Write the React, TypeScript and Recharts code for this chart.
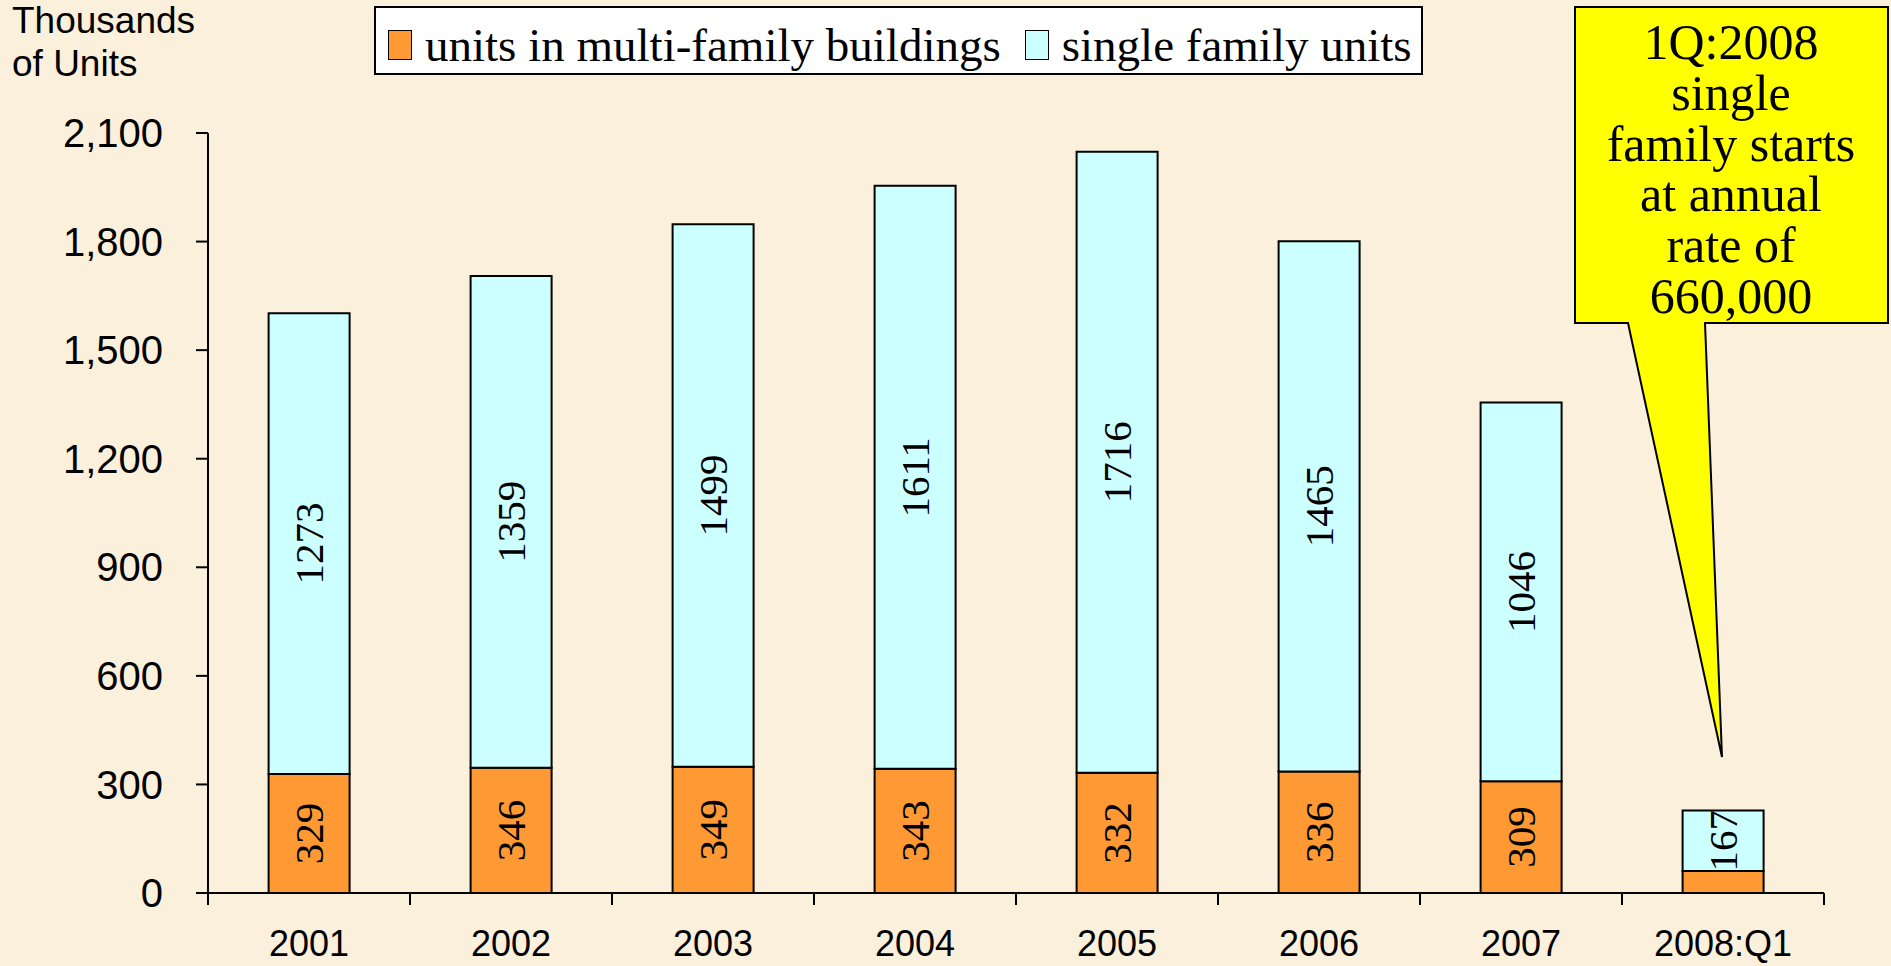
import React from 'react';
import { BarChart, Bar, XAxis, YAxis, LabelList } from 'recharts';

// Housing starts, thousands of units
const years = ['2001', '2002', '2003', '2004', '2005', '2006', '2007', '2008:Q1'];
const multiFamily = [329, 346, 349, 343, 332, 336, 309, 61];
const singleFamily = [1273, 1359, 1499, 1611, 1716, 1465, 1046, 167];
const yTicks = [0, 300, 600, 900, 1200, 1500, 1800, 2100];
const calloutLines = ['1Q:2008', 'single', 'family starts', 'at annual', 'rate of', '660,000'];

const SANS = '"Liberation Sans", Arial, sans-serif';
const SERIF = '"Liberation Serif", "Times New Roman", serif';
const ORANGE = '#FF9933';
const CYAN = '#CCFFFF';

const data = years.map((year, i) => ({
  year,
  multi: multiFamily[i],
  single: singleFamily[i],
}));

// x tick: label under the category, tick marks on the category borders
function XTick(props: any) {
  const { x, y, payload, index } = props;
  const off = payload.offset ?? 0;
  return (
    <g>
      <line x1={x - off} x2={x - off} y1={y} y2={y + 12} stroke="#000" strokeWidth={2} />
      {index === years.length - 1 && (
        <line x1={x + off} x2={x + off} y1={y} y2={y + 12} stroke="#000" strokeWidth={2} />
      )}
      <text x={x} y={y + 37} dy="0.71em" textAnchor="middle" fontFamily={SANS} fontSize={36} fill="#000">
        {payload.value}
      </text>
    </g>
  );
}

// vertical value label in the middle of a segment
function makeLabel(hideSmall: boolean) {
  return (props: any) => {
    const { x, y, width, height, value } = props;
    if (hideSmall && Math.abs(height) < 40) return null;
    const cx = x + width / 2;
    const cy = y + height / 2;
    return (
      <text
        x={cx}
        y={cy}
        transform={`rotate(-90, ${cx}, ${cy})`}
        textAnchor="middle"
        dominantBaseline="central"
        fontFamily={SERIF}
        fontSize={41}
        fill="#000"
      >
        {value}
      </text>
    );
  };
}

function LegendBox() {
  const key = (color: string) => (
    <span
      style={{
        display: 'inline-block',
        width: 24,
        height: 30,
        background: color,
        border: '1.5px solid #000',
        marginRight: 13,
        verticalAlign: 'middle',
        boxSizing: 'border-box',
      }}
    />
  );
  return (
    <div
      style={{
        position: 'absolute',
        top: 6,
        left: 374,
        width: 1049,
        height: 69,
        boxSizing: 'border-box',
        border: '2px solid #000',
        background: '#fff',
        fontFamily: SERIF,
        fontSize: 47,
        lineHeight: '64px',
        whiteSpace: 'nowrap',
        paddingLeft: 12,
        color: '#000',
        overflow: 'hidden',
      }}
    >
      {key(ORANGE)}
      <span style={{ verticalAlign: 'middle', marginRight: 24 }}>units in multi-family buildings</span>
      {key(CYAN)}
      <span style={{ verticalAlign: 'middle' }}>single family units</span>
    </div>
  );
}

export default function App() {
  return (
    <div
      style={{
        position: 'absolute',
        top: 0,
        left: 0,
        width: 1891,
        height: 966,
        background: '#FBF0DB',
        overflow: 'hidden',
      }}
    >
      <div
        style={{
          position: 'absolute',
          left: 12,
          top: -1,
          fontFamily: SANS,
          fontSize: 37,
          lineHeight: '43px',
          color: '#000',
        }}
      >
        Thousands
        <br />
        of Units
      </div>

      <BarChart
        width={1891}
        height={966}
        data={data}
        margin={{ top: 133, right: 67, bottom: 0, left: 0 }}
        barCategoryGap="30%"
        style={{ position: 'absolute', top: 0, left: 0 }}
      >
        <XAxis
          dataKey="year"
          height={73}
          tickLine={false}
          tickSize={0}
          tickMargin={0}
          axisLine={{ stroke: '#000', strokeWidth: 2 }}
          tick={<XTick />}
          interval={0}
        />
        <YAxis
          width={208}
          domain={[0, 2100]}
          ticks={yTicks}
          tickSize={12}
          tickMargin={33}
          tickLine={{ stroke: '#000', strokeWidth: 2 }}
          axisLine={{ stroke: '#000', strokeWidth: 2 }}
          tick={{ fontFamily: SANS, fontSize: 40, fill: '#000' }}
          tickFormatter={(v: number) => v.toLocaleString('en-US')}
        />
        <Bar
          dataKey="multi"
          name="units in multi-family buildings"
          stackId="a"
          fill={ORANGE}
          stroke="#000"
          strokeWidth={2}
          isAnimationActive={false}
        >
          <LabelList dataKey="multi" content={makeLabel(true)} />
        </Bar>
        <Bar
          dataKey="single"
          name="single family units"
          stackId="a"
          fill={CYAN}
          stroke="#000"
          strokeWidth={2}
          isAnimationActive={false}
        >
          <LabelList dataKey="single" content={makeLabel(false)} />
        </Bar>
      </BarChart>

      <LegendBox />

      {/* callout */}
      <svg width={1891} height={966} style={{ position: 'absolute', top: 0, left: 0, pointerEvents: 'none' }}>
        <path
          d="M1575,7 H1888 V323 H1705 L1722,757 L1628,323 H1575 Z"
          fill="#FFFF00"
          stroke="#000"
          strokeWidth={2}
        />
        {calloutLines.map((line, i) => (
          <text
            key={line}
            x={1731}
            y={59 + i * 50.8}
            textAnchor="middle"
            fontFamily={SERIF}
            fontSize={50}
            fill="#000"
          >
            {line}
          </text>
        ))}
      </svg>
    </div>
  );
}
